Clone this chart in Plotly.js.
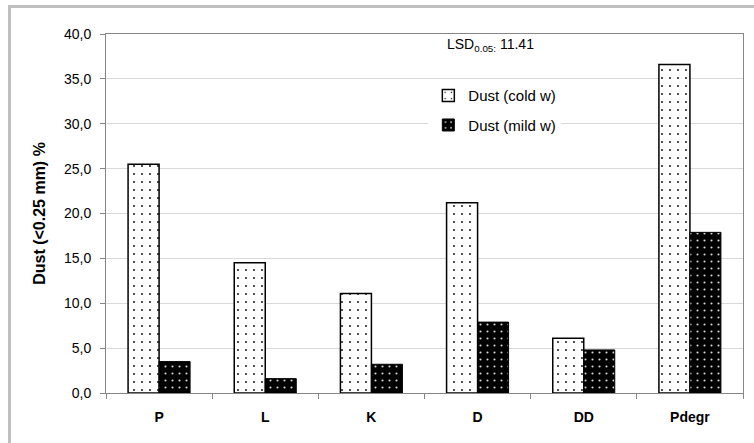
<!DOCTYPE html>
<html>
<head>
<meta charset="utf-8">
<script src="https://cdn.plot.ly/plotly-3.0.1.min.js"></script>
<style>
  html, body { margin: 0; padding: 0; background: #fff; }
  #wrap { position: relative; width: 754px; height: 443px; overflow: hidden; }
  #frame { position: absolute; left: 8px; top: 5px; width: 800px; height: 500px;
           border-left: 3px solid #c0c0c0; border-top: 3px solid #c0c0c0; box-sizing: border-box; }
  #chart { position: absolute; left: 0; top: 0; width: 754px; height: 443px; }
</style>
</head>
<body>
<div id="wrap">
  <div id="frame"></div>
  <div id="chart"></div>
</div>
<script>
const categories = ["P", "L", "K", "D", "DD", "Pdegr"];
const coldValues = [25.5, 14.5, 11.1, 21.2, 6.1, 36.6];
const mildValues = [3.5, 1.6, 3.2, 7.9, 4.8, 17.9];
const seriesNames = ["Dust (cold w)", "Dust (mild w)"];
const yTickValues = [0, 5, 10, 15, 20, 25, 30, 35, 40];
const lsdText = "LSD<sub>0.05:</sub> 11.41";
const yTitle = "Dust (<0.25 mm) %";

const font = "Liberation Sans, Arial, sans-serif";

const traces = [
  {
    type: "bar", x: categories, y: coldValues, name: seriesNames[0],
    legendgroup: "a",
    marker: {
      color: "#ffffff",
      line: { color: "#000000", width: 1.5 },
      pattern: { shape: ".", fgcolor: "#000000", bgcolor: "#ffffff", size: 8, solidity: 0.04 }
    },
    hoverinfo: "none"
  },
  {
    type: "bar", x: categories, y: mildValues, name: seriesNames[1],
    legendgroup: "b",
    marker: {
      color: "#000000",
      line: { color: "#000000", width: 1 },
      pattern: { shape: ".", fgcolor: "#d8d8d8", bgcolor: "#000000", size: 7, solidity: 0.07 }
    },
    hoverinfo: "none"
  }
];

const layout = {
  width: 754, height: 443,
  margin: { l: 106, r: 11, t: 34, b: 49.5 },
  paper_bgcolor: "rgba(0,0,0,0)",
  plot_bgcolor: "#ffffff",
  separators: ", ",
  font: { family: font, size: 14, color: "#000000" },
  barmode: "group",
  bargap: 0.416,
  bargroupgap: 0,
  showlegend: true,
  legend: {
    x: 0.506, y: 0.874, xanchor: "left", yanchor: "top",
    bgcolor: "#ffffff", borderwidth: 0,
    font: { family: font, size: 15, color: "#000000" },
    traceorder: "grouped", tracegroupgap: 7, itemwidth: 30
  },
  xaxis: {
    type: "category",
    range: [-0.5, 5.5],
    showgrid: false,
    showline: true, linecolor: "#868686", linewidth: 1, mirror: true,
    ticks: "outside", tickson: "boundaries", ticklen: 5, tickcolor: "#868686",
    tickfont: { family: font, size: 14, color: "#000000", weight: "bold" },
    ticklabelstandoff: 11
  },
  yaxis: {
    range: [0, 40],
    tickvals: yTickValues,
    tickformat: ".1f",
    showgrid: true, gridcolor: "#d9d9d9", gridwidth: 1,
    zeroline: false,
    showline: true, linecolor: "#868686", linewidth: 1, mirror: true,
    ticks: "outside", ticklen: 5, tickcolor: "#868686",
    tickfont: { family: font, size: 14, color: "#000000" },
    ticklabelstandoff: 6,
    title: { text: yTitle, font: { family: font, size: 16, color: "#000000", weight: "bold" }, standoff: 14 }
  },
  annotations: [
    {
      xref: "paper", yref: "paper", x: 0.532, y: 0.969, xanchor: "left", yanchor: "middle",
      text: lsdText, showarrow: false,
      font: { family: font, size: 14, color: "#000000" }
    }
  ]
};

Plotly.newPlot("chart", traces, layout, { displayModeBar: false, staticPlot: true });
</script>
</body>
</html>
